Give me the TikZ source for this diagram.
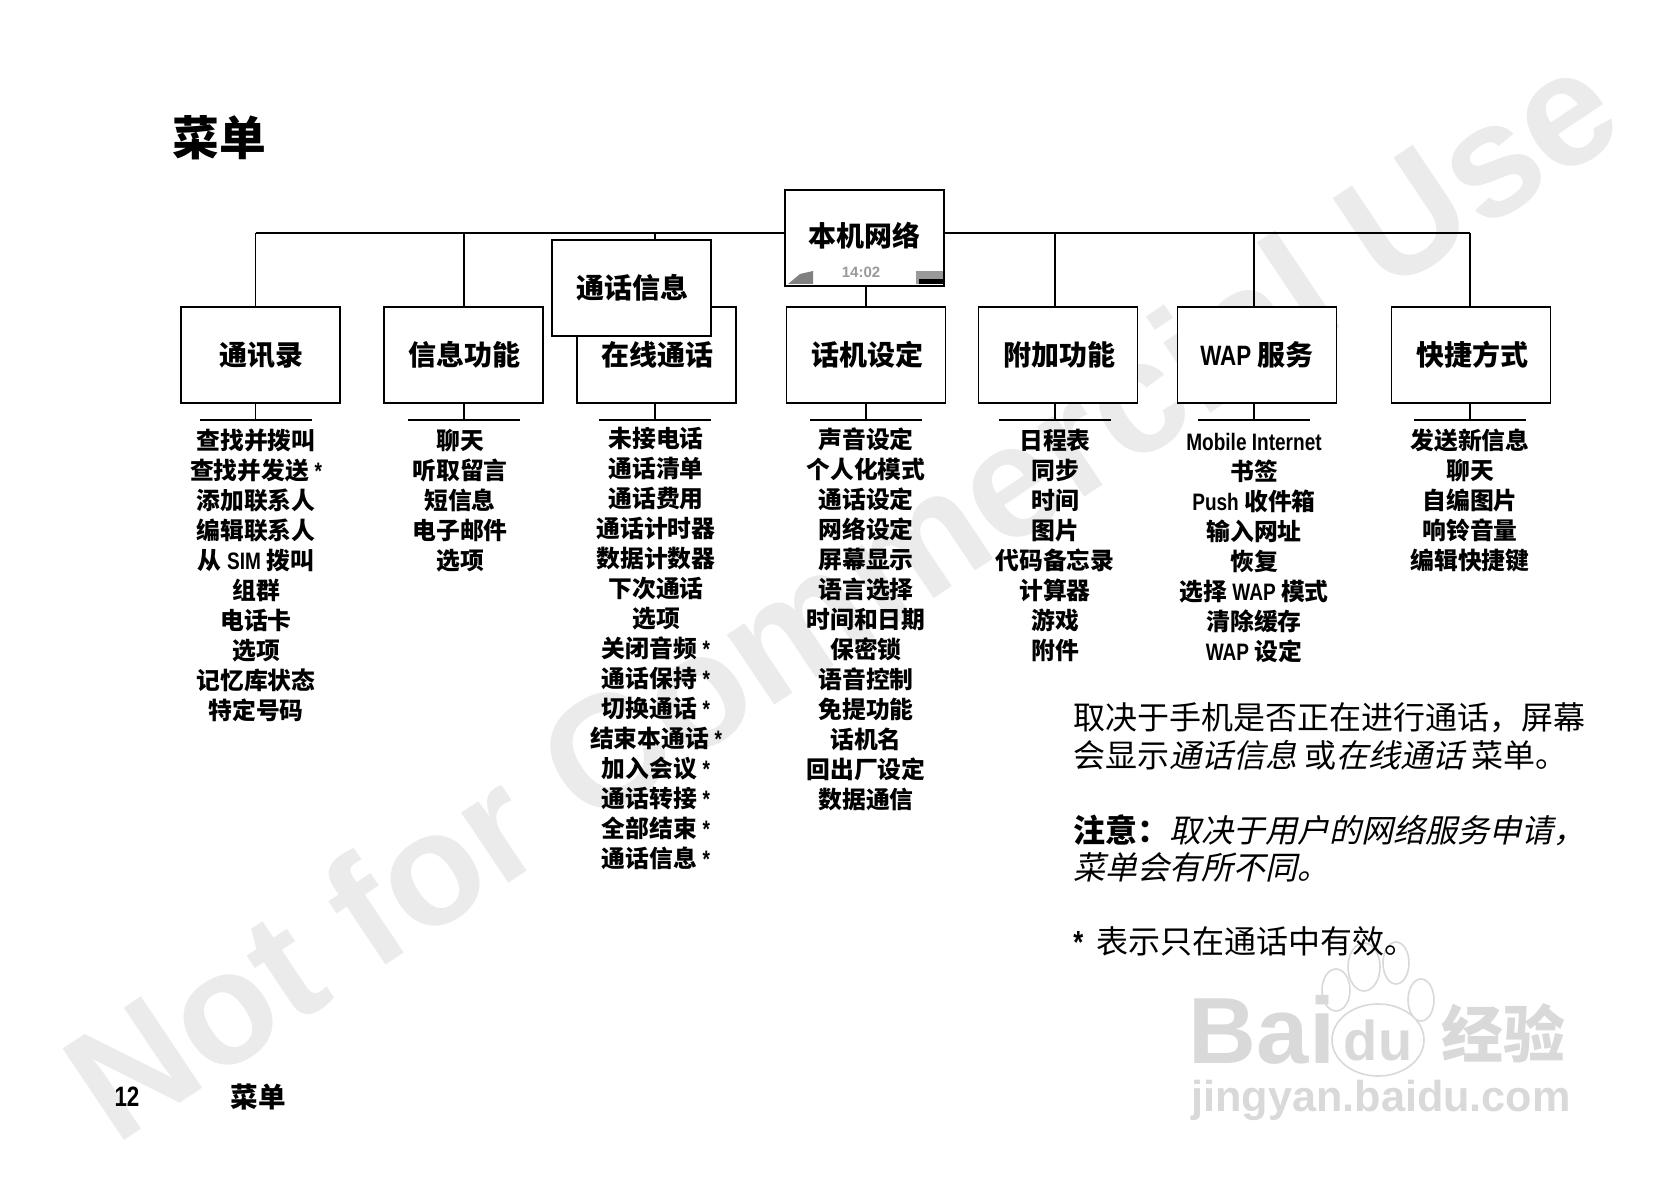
\documentclass[tikz,border=0pt]{standalone}
\usepackage{fontspec}
\usepackage{xcolor}
\usetikzlibrary{positioning,calc}
\setmainfont{Noto Sans CJK SC}
\newfontfamily\latfont[FakeStretch=0.8,UprightFont={* Bold}]{Liberation Sans}
\newfontfamily\markfont{Liberation Sans}
\newfontfamily\slantfont[FakeSlant=0.22]{Noto Sans CJK SC}
\newcommand{\lat}[1]{{\latfont #1}}

\begin{document}
\begin{tikzpicture}[
    x=0.5pt, y=-0.5pt,
    box1/.style={rectangle, draw=black, fill=white, line width=0.9pt, align=center, minimum height=48pt, minimum width=79.5pt, inner sep=0pt, outer sep=0pt, font=\fontsize{14}{16}\selectfont\bfseries},
    list1/.style={anchor=north, align=center, inner sep=0pt, font=\fontsize{11.9}{15}\selectfont\bfseries},
    note1/.style={anchor=north west, align=left, inner sep=0pt, font=\fontsize{16}{18.7}\selectfont},
    conn/.style={line width=0.6pt, draw=black},
    wmark/.style={text=black!8, inner sep=0pt, font=\fontsize{80}{80}\selectfont\markfont\bfseries},
    logo/.style={text=black!15, inner sep=0pt, font=\markfont\bfseries},
    toe/.style={draw=black!15, line width=0.8pt, fill=white}
]
    \useasboundingbox (0,0) rectangle (1676,1192);
    \fill [white] (0,0) rectangle (1676,1192);

    \node [wmark, rotate=33.8] (mark) at (841,592) {Not for Commercial Use};

    \draw [toe] (1364,967) ellipse (16 and 24);
    \draw [toe] (1396,963) ellipse (13 and 21);
    \draw [toe] (1336,990) ellipse (14 and 21);
    \draw [toe] (1421,1000) ellipse (13 and 21);
    \draw [toe] (1378,1040) ellipse (46 and 36);
    \node [logo, font=\fontsize{47}{47}\selectfont\markfont\bfseries] (logoa) at (1262,1030) {Bai};
    \node [logo, font=\fontsize{28}{28}\selectfont\markfont\bfseries] (logob) at (1378,1040) {du};
    \node [logo, font=\fontsize{31}{31}\selectfont\bfseries] (logoc) at (1503,1033) {经验};
    \node [logo, font=\fontsize{21.6}{21.6}\selectfont\markfont\bfseries] (logod) at (1381,1100) {jingyan.baidu.com};

    \node [inner sep=0pt, font=\fontsize{23.4}{26}\selectfont\bfseries] (title) at (219,138) {菜单};

    \coordinate (bus1) at (255.5,233);
    \coordinate (bus2) at (464,233);
    \coordinate (bus3) at (655,233);
    \coordinate (bus4) at (866,233);
    \coordinate (bus5) at (1055,233);
    \coordinate (bus6) at (1254,233);
    \coordinate (bus7) at (1470,233);

    \node [box1] (n1) at (260.5,355) {\hspace{1pt}\raisebox{0.8pt}{通讯录}};
    \node [box1, right=22pt of n1] (n2) {\hspace{1pt}\raisebox{0.8pt}{信息功能}};
    \node [box1, right=17pt of n2] (n3) {\hspace{1pt}\raisebox{0.8pt}{在线通话}};
    \node [box1, right=25.25pt of n3] (n4) {\hspace{1pt}\raisebox{0.8pt}{话机设定}};
    \node [box1, right=16.5pt of n4] (n5) {\hspace{1pt}\raisebox{0.8pt}{附加功能}};
    \node [box1, right=20pt of n5] (n6) {\raisebox{0.8pt}{\lat{WAP} 服务}};
    \node [box1, right=27.5pt of n6] (n7) {\hspace{1pt}\raisebox{0.8pt}{快捷方式}};

    \node [box1, line width=1.2pt] (root) at (864.5,238) {\raisebox{3.5pt}{本机网络}};
    \node [inner sep=0pt, text=black!40, font=\fontsize{7.5}{8}\selectfont\markfont\bfseries] (clock) at (861,272) {14:02};
    \fill [black!50] (788,284) -- (813,284) -- (813,271) -- (800,274) -- cycle;
    \fill [black!40] (916,271) rectangle (943,284);
    \fill [black] (919,279) rectangle (943,284);

    \draw [conn] (bus1) -- (root.west |- bus1);
    \draw [conn] (root.east |- bus1) -- (bus7);
    \draw [conn] (bus1) -- (bus1 |- n1.north);
    \draw [conn] (bus2) -- (bus2 |- n2.north);
    \draw [conn] (bus3) -- (bus3 |- n3.north);
    \draw [conn] (bus4 |- root.south) -- (bus4 |- n4.north);
    \draw [conn] (bus5) -- (bus5 |- n5.north);
    \draw [conn] (bus6) -- (bus6 |- n6.north);
    \draw [conn] (bus7) -- (bus7 |- n7.north);

    \node [box1, line width=0.7pt] (n8) at (631.5,288) {\hspace{1pt}\raisebox{1.3pt}{通话信息}};

    \coordinate (tick1) at (255.5,420);
    \coordinate (tick2) at (464,420);
    \coordinate (tick3) at (655,420);
    \coordinate (tick4) at (866,420);
    \coordinate (tick5) at (1055,420);
    \coordinate (tick6) at (1254,420);
    \coordinate (tick7) at (1470,420);

    \draw [conn] (tick1 |- n1.south) -- (tick1);
    \draw [conn] (tick2 |- n2.south) -- (tick2);
    \draw [conn] (tick3 |- n3.south) -- (tick3);
    \draw [conn] (tick4 |- n4.south) -- (tick4);
    \draw [conn] (tick5 |- n5.south) -- (tick5);
    \draw [conn] (tick6 |- n6.south) -- (tick6);
    \draw [conn] (tick7 |- n7.south) -- (tick7);
    \draw [conn] ($(tick1)+(-56,0)$) -- ($(tick1)+(56,0)$);
    \draw [conn] ($(tick2)+(-56,0)$) -- ($(tick2)+(56,0)$);
    \draw [conn] ($(tick3)+(-56,0)$) -- ($(tick3)+(56,0)$);
    \draw [conn] ($(tick4)+(-56,0)$) -- ($(tick4)+(56,0)$);
    \draw [conn] ($(tick5)+(-56,0)$) -- ($(tick5)+(56,0)$);
    \draw [conn] ($(tick6)+(-56,0)$) -- ($(tick6)+(56,0)$);
    \draw [conn] ($(tick7)+(-56,0)$) -- ($(tick7)+(56,0)$);

    \node [list1] (list1) at (256,429) {查找并拨叫\\查找并发送 \lat{*}\\添加联系人\\编辑联系人\\从 \lat{SIM} 拨叫\\组群\\电话卡\\选项\\记忆库状态\\特定号码};
    \node [list1] (list2) at (460,429) {聊天\\听取留言\\短信息\\电子邮件\\选项};
    \node [list1] (list3) at (656,427) {未接电话\\通话清单\\通话费用\\通话计时器\\数据计数器\\下次通话\\选项\\关闭音频 \lat{*}\\通话保持 \lat{*}\\切换通话 \lat{*}\\结束本通话 \lat{*}\\加入会议 \lat{*}\\通话转接 \lat{*}\\全部结束 \lat{*}\\通话信息 \lat{*}};
    \node [list1] (list4) at (866,427) {声音设定\\个人化模式\\通话设定\\网络设定\\屏幕显示\\语言选择\\时间和日期\\保密锁\\语音控制\\免提功能\\话机名\\回出厂设定\\数据通信};
    \node [list1] (list5) at (1055,429) {日程表\\同步\\时间\\图片\\代码备忘录\\计算器\\游戏\\附件};
    \node [list1] (list6) at (1254,433) {\lat{Mobile Internet}\\书签\\\lat{Push} 收件箱\\输入网址\\恢复\\选择 \lat{WAP} 模式\\清除缓存\\\lat{WAP} 设定};
    \node [list1] (list7) at (1470,428) {发送新信息\\聊天\\自编图片\\响铃音量\\编辑快捷键};

    \node [note1, font=\fontsize{16}{19.1}\selectfont] (note1) at (1073,702) {取决于手机是否正在进行通话，屏幕\\会显示{\slantfont 通话信息} 或{\slantfont 在线通话} 菜单。};
    \node [note1] (note2) at (1073,814) {\textbf{注意：}{\slantfont 取决于用户的网络服务申请，}\\{\slantfont 菜单会有所不同。}};
    \node [note1] (note3) at (1073,926) {\lat{*}\hspace{3pt} 表示只在通话中有效。};

    \node [inner sep=0pt, font=\fontsize{14}{16}\selectfont] (page) at (127,1097) {\lat{12}};
    \node [inner sep=0pt, font=\fontsize{13.8}{16}\selectfont\bfseries] (foot) at (258,1097) {菜单};
\end{tikzpicture}
\end{document}
